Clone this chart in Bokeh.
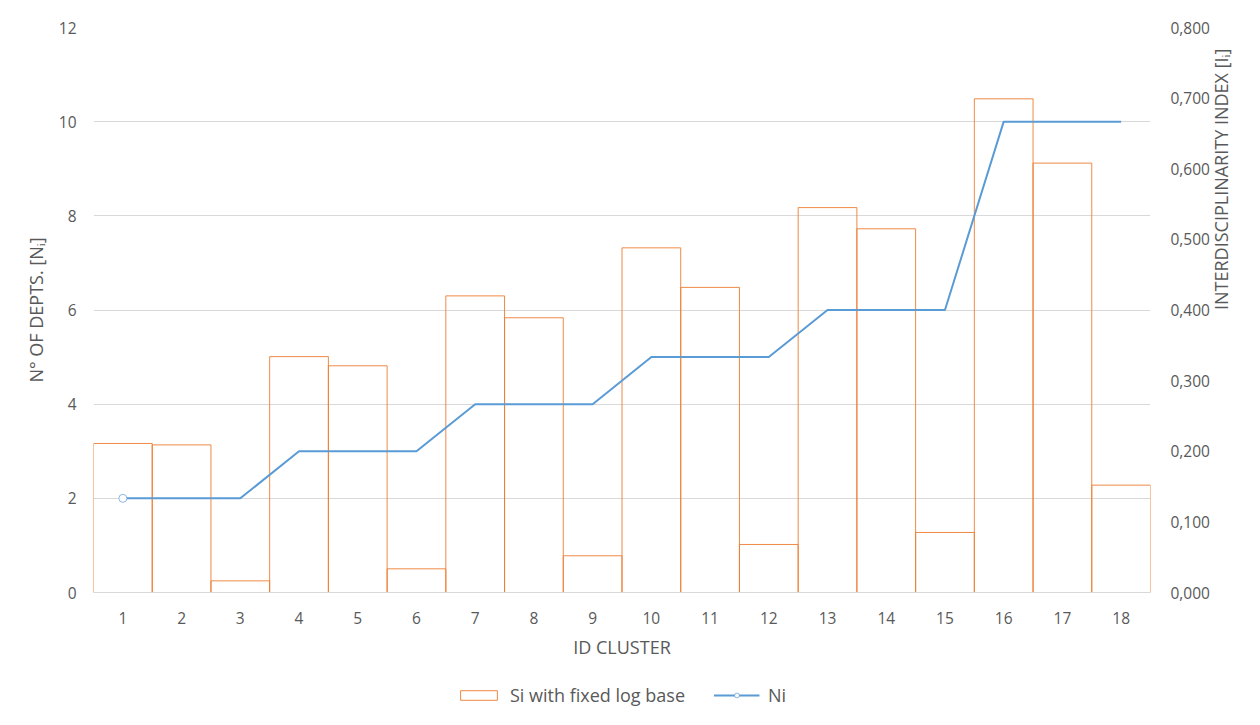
import math
from bokeh.plotting import figure
from bokeh.layouts import column
from bokeh.models import (Range1d, LinearAxis, FixedTicker, CustomJSTickFormatter,
                          Legend, LegendItem, ColumnDataSource, Grid)
from bokeh.embed import file_html
from bokeh.resources import INLINE

clusters = list(range(1, 19))
si_values = [0.211, 0.209, 0.0165, 0.334, 0.321, 0.0335, 0.420, 0.389, 0.052,
             0.488, 0.432, 0.068, 0.545, 0.515, 0.085, 0.699, 0.608, 0.152]
ni_values = [2, 2, 2, 3, 3, 3, 4, 4, 4, 5, 5, 5, 6, 6, 6, 10, 10, 10]
left_ticks = [0, 2, 4, 6, 8, 10, 12]
right_ticks = [0.0, 0.1, 0.2, 0.3, 0.4, 0.5, 0.6, 0.7, 0.8]
series_names = ["Si with fixed log base", "Ni"]

FONT = "Open Sans"
TXT = "#595959"
ORANGE = "#ED7D31"
BLUE = "#5B9BD5"
GRID = "#d9d9d9"

src = ColumnDataSource(dict(x=clusters, si=si_values, ni=ni_values))

p = figure(width=1260, height=665, x_range=Range1d(0.5, 18.5), y_range=Range1d(0, 12),
           output_backend="svg", toolbar_location=None,
           min_border_left=93, min_border_right=110, min_border_top=27, min_border_bottom=73,
           x_axis_location=None, y_axis_location=None)
p.extra_y_ranges = {"right": Range1d(0, 0.8)}
p.outline_line_color = None
p.background_fill_color = "white"
p.border_fill_color = "white"

xaxis = LinearAxis(ticker=FixedTicker(ticks=clusters), axis_label="ID CLUSTER")
yaxis = LinearAxis(ticker=FixedTicker(ticks=left_ticks), axis_label="N° OF DEPTS. [Nᵢ]")
raxis = LinearAxis(y_range_name="right", ticker=FixedTicker(ticks=right_ticks),
                   axis_label="INTERDISCIPLINARITY INDEX [Iᵢ]",
                   formatter=CustomJSTickFormatter(code="return tick.toFixed(3).replace('.', ',');"))
for ax in (xaxis, yaxis, raxis):
    ax.major_tick_line_color = None
    ax.minor_tick_line_color = None
    ax.major_label_text_font = FONT
    ax.major_label_text_font_size = "15.5px"
    ax.major_label_text_color = TXT
    ax.axis_label_text_font = FONT
    ax.axis_label_text_font_size = "18px"
    ax.axis_label_text_color = TXT
    ax.axis_label_text_font_style = "normal"
xaxis.axis_line_color = GRID
yaxis.axis_line_color = None
raxis.axis_line_color = None
xaxis.major_label_standoff = 13
xaxis.axis_label_standoff = 8
yaxis.major_label_standoff = 11
yaxis.axis_label_standoff = 8
raxis.major_label_standoff = 14
raxis.axis_label_standoff = 8
raxis.axis_label_orientation = math.pi / 2
p.add_layout(xaxis, "below")
p.add_layout(yaxis, "left")
p.add_layout(raxis, "right")

p.xgrid.visible = False
p.ygrid.visible = False
g = Grid(dimension=1, ticker=FixedTicker(ticks=left_ticks), grid_line_color=GRID)
p.add_layout(g)

bars = p.vbar(x="x", top="si", width=1.0, bottom=0, source=src, y_range_name="right",
              fill_color=None, line_color=ORANGE, line_width=1, line_alpha=0.9)
line_r = p.line(x="x", y="ni", source=src, line_color=BLUE, line_width=2)
marker_r = p.scatter(x=[clusters[0]], y=[ni_values[0]], marker="circle", size=8,
                     fill_color="white", line_color=BLUE, line_width=1, line_alpha=0.7)

# legend strip: same series drawn in a strip whose range shows none of them,
# so only the legend entries are visible
lg = figure(width=1260, height=60, x_range=Range1d(0.5, 18.5), y_range=Range1d(100, 101),
            output_backend="svg", toolbar_location=None,
            min_border_left=93, min_border_right=110, min_border_top=0, min_border_bottom=0,
            x_axis_location=None, y_axis_location=None)
lg.outline_line_color = None
lg.xgrid.visible = False
lg.ygrid.visible = False
lbar = lg.vbar(x="x", top="si", width=1.0, bottom=0, source=src,
               fill_color=None, line_color=ORANGE, line_width=1, line_alpha=0.9)
lline = lg.line(x="x", y="ni", source=src, line_color=BLUE, line_width=2)
lmark = lg.scatter(x="x", y="ni", source=src, marker="circle", size=8,
                   fill_color="white", line_color=BLUE, line_width=1, line_alpha=0.7)
legend = Legend(items=[LegendItem(label=series_names[0], renderers=[lbar]),
                       LegendItem(label=series_names[1], renderers=[lline, lmark])],
                orientation="horizontal", location="center",
                border_line_color=None, background_fill_alpha=0,
                label_text_font=FONT, label_text_font_size="18px", label_text_color=TXT,
                label_standoff=9, glyph_width=46, glyph_height=12, spacing=28,
                padding=0, margin=0)
lg.add_layout(legend, "center")

layout = column(p, lg, spacing=0)
open("out.html", "w").write(file_html(layout, INLINE))
